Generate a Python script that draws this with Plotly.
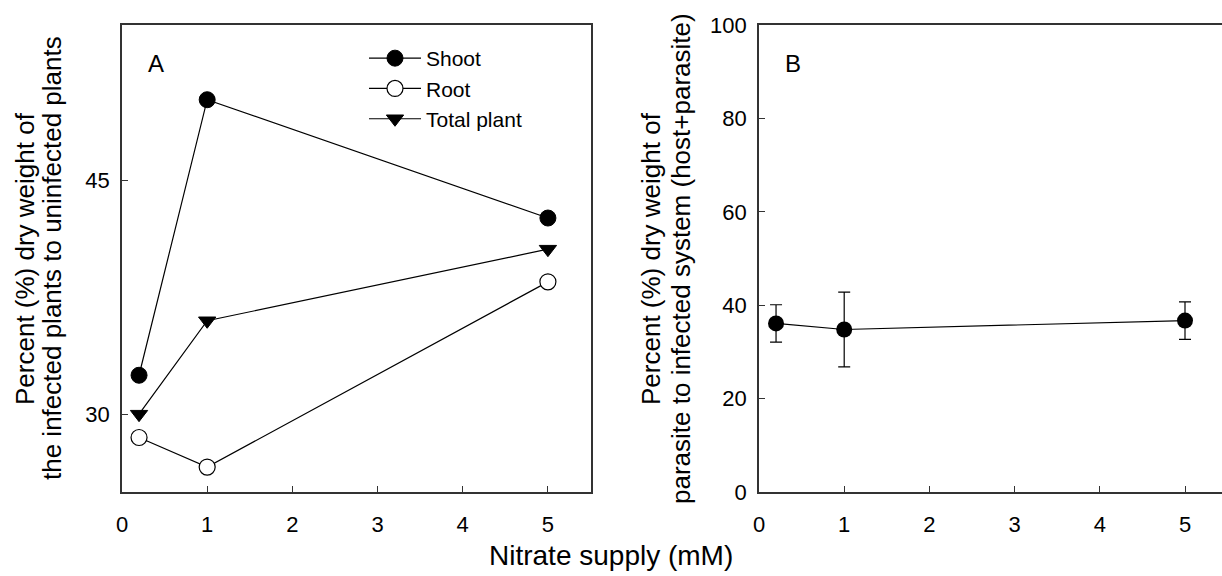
import plotly.graph_objects as go

# ---- data ----
nitrate = [0.2, 1, 5]
shoot = [32.5, 50.2, 42.6]
root = [28.5, 26.6, 38.5]
total_plant = [30.0, 36.0, 40.6]

parasite_pct = [36.1, 34.8, 36.7]
parasite_err = [4.0, 8.0, 4.0]

x_ticks = [0, 1, 2, 3, 4, 5]
yA_ticks = [30, 45]
yB_ticks = [0, 20, 40, 60, 80, 100]

W, H = 1222, 576
FONT = "Liberation Sans, Arial, sans-serif"
AX = "#333333"

def px(x):
    return x / W

def py(y):
    return 1 - y / H

fig = go.Figure()

fig.add_trace(go.Scatter(x=nitrate, y=shoot, name="Shoot", mode="lines+markers",
                         line=dict(color="black", width=1.2),
                         marker=dict(symbol="circle", size=16, color="black",
                                     line=dict(color="black", width=1)),
                         xaxis="x", yaxis="y"))
fig.add_trace(go.Scatter(x=nitrate, y=root, name="Root", mode="lines+markers",
                         line=dict(color="black", width=1.2),
                         marker=dict(symbol="circle", size=16, color="white",
                                     line=dict(color="black", width=1.2)),
                         xaxis="x", yaxis="y"))
fig.add_trace(go.Scatter(x=nitrate, y=total_plant, name="Total plant", mode="lines+markers",
                         line=dict(color="black", width=1.2),
                         marker=dict(symbol="triangle-down", size=15, color="black",
                                     line=dict(color="black", width=1)),
                         xaxis="x", yaxis="y"))
fig.add_trace(go.Scatter(x=nitrate, y=parasite_pct, name="Parasite", mode="lines+markers",
                         showlegend=False,
                         line=dict(color="black", width=1.2),
                         marker=dict(symbol="circle", size=16, color="black"),
                         error_y=dict(type="data", array=parasite_err, visible=True,
                                      color="black", thickness=1.2, width=6),
                         xaxis="x2", yaxis="y2"))

axis_common = dict(showline=True, linecolor=AX, linewidth=1.8, ticks="inside",
                   ticklen=6, tickcolor=AX, tickwidth=1, showgrid=False, zeroline=False,
                   automargin=False,
                   tickfont=dict(family=FONT, size=22, color="black"))

fig.update_layout(
    width=W, height=H,
    margin=dict(l=0, r=0, t=0, b=0, pad=0, autoexpand=False),
    paper_bgcolor="white", plot_bgcolor="white",
    font=dict(family=FONT, color="black"),
    xaxis=dict(domain=[px(122), px(590.5)], range=[0, 5.5], tickvals=x_ticks,
               mirror=True, anchor="y", ticklabelstandoff=12, **axis_common),
    yaxis=dict(domain=[py(492), py(25)], range=[25, 55], tickvals=yA_ticks,
               mirror=True, anchor="x", ticklabelstandoff=6, **axis_common),
    xaxis2=dict(domain=[px(759), 1.0], range=[0, (W - 759) / 85.2], tickvals=x_ticks,
                mirror=True, anchor="y2", ticklabelstandoff=12, **axis_common),
    yaxis2=dict(domain=[py(492), py(25)], range=[0, 100], tickvals=yB_ticks,
                mirror=False, anchor="x2", ticklabelstandoff=6, **axis_common),
    legend=dict(x=px(364), y=py(38), xanchor="left", yanchor="top",
                bgcolor="rgba(0,0,0,0)", font=dict(family=FONT, size=21, color="black"),
                itemwidth=52, tracegroupgap=0),
    showlegend=True,
)

ann = [
    dict(text="A", x=px(156), y=py(63), size=24),
    dict(text="B", x=px(793), y=py(63), size=24),
    dict(text="Nitrate supply (mM)", x=px(611), y=py(555), size=28),
    dict(text="Percent (%) dry weight of", x=px(25), y=py(259), size=26, angle=-90),
    dict(text="the infected plants to uninfected plants", x=px(52), y=py(258), size=26, angle=-90),
    dict(text="Percent (%) dry weight of", x=px(651), y=py(259), size=26, angle=-90),
    dict(text="parasite to infected system (host+parasite)", x=px(681), y=py(259), size=26, angle=-90),
]
for a in ann:
    fig.add_annotation(text=a["text"], x=a["x"], y=a["y"], xref="paper", yref="paper",
                       xanchor="center", yanchor="middle", showarrow=False,
                       textangle=a.get("angle", 0),
                       font=dict(family=FONT, size=a["size"], color="black"))

fig.write_html("out.html")
